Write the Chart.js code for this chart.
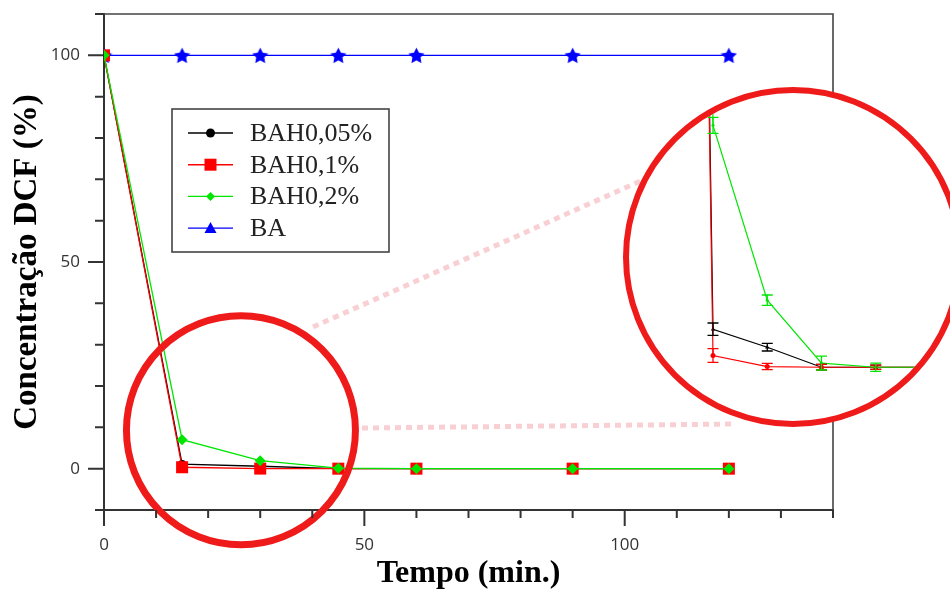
<!DOCTYPE html>
<html><head><meta charset="utf-8">
<script src="https://cdn.jsdelivr.net/npm/chart.js@4.4.1/dist/chart.umd.min.js"></script>
<style>
html,body{margin:0;padding:0;background:#fff;}
#wrap{position:relative;width:950px;height:590px;overflow:hidden;background:#fff;}
#main{position:absolute;left:0;top:0;}
#zoom{position:absolute;left:623px;top:87px;width:340px;height:340px;box-sizing:border-box;border:6px solid #ef1a1a;border-radius:50%;overflow:hidden;background:#fff;}
#inset{display:block;}
</style></head><body>
<div id="wrap">
<canvas id="main" width="950" height="590"></canvas>
<div id="zoom"><canvas id="inset" width="328" height="328"></canvas></div>
</div>
<script>
// ---- data ----
const times = [0, 15, 30, 45, 60, 90, 120];
const seriesLabels = ['BAH0,05%', 'BAH0,1%', 'BAH0,2%', 'BA'];
const bah005 = [100, 1.1, 0.58, 0, 0, 0, 0];
const bah01  = [100, 0.34, 0.02, 0, 0, 0, 0];
const bah02  = [100, 7.0, 1.94, 0.12, 0, 0, 0];
const ba     = [100, 100, 100, 100, 100, 100, 100];
const err005 = [0, 0.18, 0.11, 0.08, 0.06, 0.06, 0.06];
const err01  = [0, 0.20, 0.09, 0.08, 0.06, 0.06, 0.06];
const err02  = [0, 0.23, 0.15, 0.20, 0.12, 0.10, 0.10];
const xTickLabels = [0, 50, 100];
const yTickLabels = [0, 50, 100];
const xTitle = 'Tempo (min.)';
const yTitle = 'Concentração DCF (%)';

const pts = arr => times.map((t, i) => ({x: t, y: arr[i]}));

function starImage(size, color) {
  const c = document.createElement('canvas');
  c.width = c.height = size;
  const g = c.getContext('2d');
  const cx = size / 2, cy = size / 2 + 0.8, R = size / 2, r = R * 0.5;
  g.beginPath();
  for (let i = 0; i < 10; i++) {
    const a = -Math.PI / 2 + i * Math.PI / 5;
    const rr = i % 2 ? r : R;
    g.lineTo(cx + rr * Math.cos(a), cy + rr * Math.sin(a));
  }
  g.closePath();
  g.fillStyle = color;
  g.fill();
  return c;
}

const BLACK = '#000000', RED = '#ff0000', GREEN = '#00e600', BLUE = '#0000ff';

function drawMarker(ctx, style, x, y, r, color) {
  ctx.save();
  ctx.fillStyle = color;
  ctx.beginPath();
  if (style === 'circle') { ctx.arc(x, y, r, 0, Math.PI * 2); }
  else if (style === 'rect') { ctx.rect(x - r, y - r, 2 * r, 2 * r); }
  else if (style === 'rectRot') { ctx.moveTo(x, y - r); ctx.lineTo(x + r, y); ctx.lineTo(x, y + r); ctx.lineTo(x - r, y); ctx.closePath(); }
  else if (style === 'triangle') { ctx.moveTo(x, y - r); ctx.lineTo(x + r, y + r * 0.8); ctx.lineTo(x - r, y + r * 0.8); ctx.closePath(); }
  ctx.fill();
  ctx.restore();
}

// ---- plugins for main chart ----
const axisTicks = {
  id: 'axisTicks',
  afterDraw(chart) {
    const {ctx, chartArea: a, scales: {x, y}} = chart;
    ctx.save();
    ctx.strokeStyle = '#333';
    ctx.lineWidth = 2;
    ctx.beginPath();
    x.ticks.forEach(t => {
      const px = x.getPixelForValue(t.value);
      const len = t.value % 50 === 0 ? 16 : 8;
      ctx.moveTo(px, a.bottom); ctx.lineTo(px, a.bottom + len);
    });
    y.ticks.forEach(t => {
      const py = y.getPixelForValue(t.value);
      const len = t.value % 50 === 0 ? 16 : 9;
      ctx.moveTo(a.left, py); ctx.lineTo(a.left - len, py);
    });
    ctx.stroke();
    // frame top & right
    ctx.strokeStyle = '#444';
    ctx.lineWidth = 1.6;
    ctx.beginPath();
    ctx.moveTo(a.left, a.top); ctx.lineTo(a.right, a.top); ctx.lineTo(a.right, a.bottom);
    ctx.stroke();
    ctx.restore();
  }
};

const boxLegend = {
  id: 'boxLegend',
  afterDraw(chart) {
    const ctx = chart.ctx;
    const bx = 172, by = 109, bw = 217, bh = 143;
    ctx.save();
    ctx.fillStyle = '#fff';
    ctx.fillRect(bx, by, bw, bh);
    ctx.strokeStyle = '#444';
    ctx.lineWidth = 1.6;
    ctx.strokeRect(bx, by, bw, bh);
    ctx.font = '26px "Liberation Serif", "Times New Roman", serif';
    ctx.textBaseline = 'middle';
    ctx.textAlign = 'left';
    chart.data.datasets.forEach((ds, i) => {
      const yy = 133 + i * 31.7;
      ctx.strokeStyle = ds.borderColor;
      ctx.lineWidth = 1.4;
      ctx.beginPath(); ctx.moveTo(188, yy); ctx.lineTo(233, yy); ctx.stroke();
      drawMarker(ctx, ds.legendStyle, 210.5, yy, ds.legendSize, ds.borderColor);
      ctx.fillStyle = '#222';
      ctx.fillText(ds.label, 250, yy + 1);
    });
    ctx.restore();
  }
};

const zoomMarks = {
  id: 'zoomMarks',
  afterDatasetsDraw(chart) {
    const {ctx, scales: {x, y}} = chart;
    ctx.save();
    // dashed connectors
    ctx.strokeStyle = 'rgba(240,150,160,0.45)';
    ctx.lineWidth = 5;
    ctx.setLineDash([6, 5]);
    ctx.beginPath();
    ctx.moveTo(313, 327); ctx.lineTo(645, 179);
    ctx.moveTo(362, 428); ctx.lineTo(736, 424);
    ctx.stroke();
    ctx.setLineDash([]);
    // small circle around the zoomed region
    const cx = x.getPixelForValue(26.3), cy = y.getPixelForValue(9.3);
    ctx.strokeStyle = '#ef1a1a';
    ctx.lineWidth = 7;
    ctx.beginPath();
    ctx.arc(cx, cy, 114.5, 0, Math.PI * 2);
    ctx.stroke();
    ctx.restore();
  }
};

function noPad(s) { s.paddingTop = 0; s.paddingBottom = 0; s.paddingLeft = 0; s.paddingRight = 0; }

new Chart(document.getElementById('main'), {
  type: 'line',
  data: {
    datasets: [
      {label: seriesLabels[0], data: pts(bah005), borderColor: BLACK, backgroundColor: BLACK,
       pointStyle: 'circle', pointRadius: 4, pointBorderWidth: 0, borderWidth: 1.3, order: 3,
       legendStyle: 'circle', legendSize: 4.5},
      {label: seriesLabels[1], data: pts(bah01), borderColor: RED, backgroundColor: RED,
       pointStyle: 'rect', pointRadius: 8.5, pointBorderWidth: 0, borderWidth: 1.3, order: 2,
       legendStyle: 'rect', legendSize: 6},
      {label: seriesLabels[2], data: pts(bah02), borderColor: GREEN, backgroundColor: GREEN,
       pointStyle: 'rectRot', pointRadius: 5.5, pointBorderWidth: 0, borderWidth: 1.3, order: 1,
       legendStyle: 'rectRot', legendSize: 4.5},
      {label: seriesLabels[3], data: pts(ba), borderColor: BLUE, backgroundColor: BLUE,
       pointStyle: starImage(17, BLUE), pointRadius: 8, borderWidth: 1.3, order: 4,
       legendStyle: 'triangle', legendSize: 6}
    ]
  },
  options: {
    responsive: false,
    animation: false,
    devicePixelRatio: 1,
    layout: {padding: {top: 14, right: 117, left: 0, bottom: 0}},
    plugins: {legend: {display: false}, tooltip: {enabled: false}},
    scales: {
      x: {
        type: 'linear', min: 0, max: 140,
        afterFit(s) { s.height = 80; noPad(s); },
        grid: {display: false, drawTicks: false},
        border: {display: true, color: '#333', width: 2},
        ticks: {stepSize: 10, autoSkip: false, maxRotation: 0, padding: 25, color: '#333',
                font: {family: '"Open Sans", "DejaVu Sans", sans-serif', size: 17},
                callback: v => xTickLabels.includes(v) ? String(v) : ''},
        title: {display: true, text: xTitle, color: '#000', padding: {top: 0, bottom: 0},
                font: {family: '"Liberation Serif", "Times New Roman", serif', size: 32, weight: 'bold', lineHeight: 1}}
      },
      y: {
        min: -10, max: 110,
        afterFit(s) { s.width = 104; noPad(s); },
        grid: {display: false, drawTicks: false},
        border: {display: true, color: '#333', width: 2},
        ticks: {stepSize: 10, autoSkip: false, padding: 24, color: '#333',
                font: {family: '"Open Sans", "DejaVu Sans", sans-serif', size: 17},
                callback: v => yTickLabels.includes(v) ? String(v) : ''},
        title: {display: true, text: yTitle, color: '#000', padding: {top: 11, bottom: 0},
                font: {family: '"Liberation Serif", "Times New Roman", serif', size: 33, weight: 'bold', lineHeight: 1}}
      }
    }
  },
  plugins: [zoomMarks, axisTicks, boxLegend]
});

// ---- inset (zoom) chart ----
const errorBars = {
  id: 'errorBars',
  afterDatasetsDraw(chart) {
    const {ctx, scales: {y}} = chart;
    ctx.save();
    [0, 1, 2].forEach(i => {
      const ds = chart.data.datasets[i];
      const meta = chart.getDatasetMeta(i);
      ctx.strokeStyle = ds.borderColor;
      ctx.lineWidth = 1.3;
      ctx.beginPath();
      meta.data.forEach((p, j) => {
        const e = ds.err[j];
        if (!e) return;
        const v = ds.data[j].y;
        const t = y.getPixelForValue(v + e), b = y.getPixelForValue(v - e);
        ctx.moveTo(p.x, t); ctx.lineTo(p.x, b);
        ctx.moveTo(p.x - 5.5, t); ctx.lineTo(p.x + 5.5, t);
        ctx.moveTo(p.x - 5.5, b); ctx.lineTo(p.x + 5.5, b);
      });
      ctx.stroke();
    });
    ctx.restore();
  }
};

new Chart(document.getElementById('inset'), {
  type: 'line',
  data: {
    datasets: [
      {data: pts(bah005), borderColor: BLACK, backgroundColor: BLACK, pointStyle: 'triangle',
       pointRadius: 2.5, pointBorderWidth: 0, borderWidth: 1.2, err: err005, order: 3},
      {data: pts(bah01), borderColor: RED, backgroundColor: RED, pointStyle: 'circle',
       pointRadius: 2.5, pointBorderWidth: 0, borderWidth: 1.2, err: err01, order: 2},
      {data: pts(bah02), borderColor: GREEN, backgroundColor: GREEN, pointStyle: 'circle',
       pointRadius: 1.5, pointBorderWidth: 0, borderWidth: 1.2, err: err02, order: 1}
    ]
  },
  options: {
    responsive: false,
    animation: false,
    devicePixelRatio: 1,
    layout: {padding: 0},
    plugins: {legend: {display: false}, tooltip: {enabled: false}},
    scales: {
      x: {type: 'linear', display: false, min: -7.12, max: 81.36},
      y: {display: false, min: -1.44, max: 7.82}
    }
  },
  plugins: [errorBars]
});
</script>
</body></html>
